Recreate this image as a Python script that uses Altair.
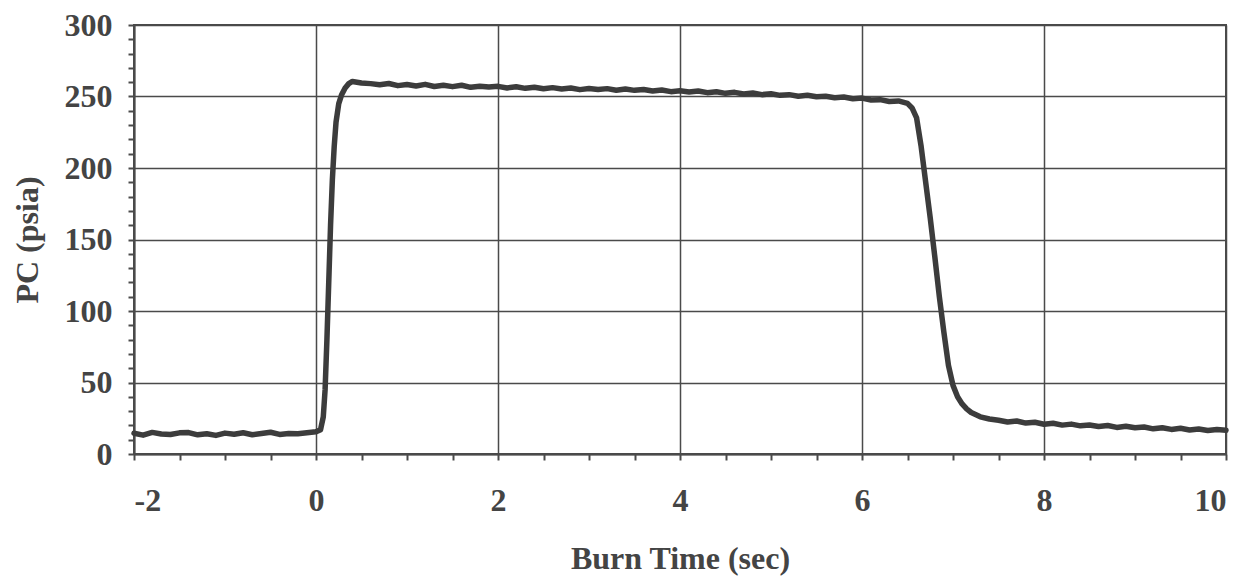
import altair as alt
import pandas as pd

time_pre = [-2.0, -1.9, -1.8, -1.7, -1.6, -1.5, -1.4, -1.3, -1.2, -1.1, -1.0,
            -0.9, -0.8, -0.7, -0.6, -0.5, -0.4, -0.3, -0.2, -0.1, 0.0]
pc_pre = [14.5, 13.2, 15.1, 14.0, 13.6, 14.8, 15.0, 13.4, 14.2, 13.0, 14.6,
          13.8, 14.9, 13.5, 14.3, 15.2, 13.7, 14.4, 14.1, 14.8, 15.5]

time_rise = [0.05, 0.08, 0.10, 0.12, 0.14, 0.16, 0.18, 0.20, 0.22, 0.25, 0.28,
             0.32, 0.36, 0.40, 0.45, 0.50]
pc_rise = [17, 26, 45, 80, 120, 160, 192, 215, 232, 245, 251,
           256, 259, 260.5, 260, 259.5]

time_plateau = [0.6, 0.7, 0.8, 0.9, 1.0, 1.1, 1.2, 1.3, 1.4, 1.5, 1.6, 1.7, 1.8, 1.9,
                2.0, 2.1, 2.2, 2.3, 2.4, 2.5, 2.6, 2.7, 2.8, 2.9, 3.0, 3.1, 3.2, 3.3,
                3.4, 3.5, 3.6, 3.7, 3.8, 3.9, 4.0, 4.1, 4.2, 4.3, 4.4, 4.5, 4.6, 4.7,
                4.8, 4.9, 5.0, 5.1, 5.2, 5.3, 5.4, 5.5, 5.6, 5.7, 5.8, 5.9, 6.0, 6.1,
                6.2, 6.3, 6.4, 6.5]
pc_plateau = [259.0, 258.2, 259.1, 257.6, 258.4, 257.3, 258.5, 257.0, 257.8, 256.9,
              257.9, 256.4, 257.2, 256.6, 257.1, 256.0, 256.8, 255.7, 256.5, 255.4,
              256.2, 255.3, 255.9, 254.8, 255.6, 254.9, 255.5, 254.4, 255.2, 254.3,
              254.9, 253.8, 254.5, 253.4, 254.0, 253.2, 253.9, 252.7, 253.3, 252.2,
              252.9, 251.8, 252.4, 251.3, 251.9, 250.8, 251.3, 250.2, 250.9, 249.8,
              250.2, 249.1, 249.6, 248.4, 248.9, 247.6, 247.8, 246.5, 246.9, 245.2]

time_fall = [6.55, 6.6, 6.65, 6.7, 6.75, 6.8, 6.85, 6.9, 6.95, 7.0, 7.05, 7.1,
             7.15, 7.2, 7.3, 7.4]
pc_fall = [242, 235, 215, 190, 165, 138, 110, 85, 62, 48, 40, 35,
           31.5, 29, 26, 24.5]

time_tail = [7.5, 7.6, 7.7, 7.8, 7.9, 8.0, 8.1, 8.2, 8.3, 8.4, 8.5, 8.6, 8.7,
             8.8, 8.9, 9.0, 9.1, 9.2, 9.3, 9.4, 9.5, 9.6, 9.7, 9.8, 9.9, 10.0]
pc_tail = [23.6, 22.4, 23.1, 21.6, 22.2, 20.8, 21.5, 20.2, 20.9, 19.7, 20.3,
           19.2, 19.9, 18.6, 19.4, 18.3, 18.9, 17.6, 18.4, 17.2, 18.0, 16.8,
           17.5, 16.4, 17.2, 16.6]

x_ticks = [-2, -1.5, -1, -0.5, 0, 0.5, 1, 1.5, 2, 2.5, 3, 3.5, 4, 4.5, 5, 5.5,
           6, 6.5, 7, 7.5, 8, 8.5, 9, 9.5, 10]
y_ticks = list(range(0, 301, 10))

df = pd.DataFrame({
    "t": time_pre + time_rise + time_plateau + time_fall + time_tail,
    "pc": pc_pre + pc_rise + pc_plateau + pc_fall + pc_tail,
})

FONT = "Liberation Serif"
GRID = "#4a4a4a"
TEXT = "#444444"

chart = alt.Chart(df).mark_line(
    color="#3c3c3c", strokeWidth=5.5, strokeJoin="round", strokeCap="round"
).encode(
    x=alt.X("t:Q", title="Burn Time (sec)",
            scale=alt.Scale(domain=[-2, 10], nice=False, zero=False),
            axis=alt.Axis(
                values=x_ticks,
                labelExpr="datum.value % 2 == 0 ? '' + datum.value : ''",
                gridOpacity={"condition": {"test": "datum.value % 2 == 0", "value": 1}, "value": 0},
                tickSize=6,
                labelPadding=25,
                titlePadding=27,
            )),
    y=alt.Y("pc:Q", title="PC (psia)",
            scale=alt.Scale(domain=[0, 300], nice=False),
            axis=alt.Axis(
                values=y_ticks,
                labelExpr="datum.value % 50 == 0 ? '' + datum.value : ''",
                gridOpacity={"condition": {"test": "datum.value % 50 == 0", "value": 1}, "value": 0},
                tickSize=6,
                labelPadding=16,
                titlePadding=20,
            )),
).properties(
    width=1092, height=429,
    background="white",
    autosize=alt.AutoSizeParams(type="none"),
    padding={"left": 126, "top": 17, "right": 17, "bottom": 123},
).configure_view(
    stroke=GRID, strokeWidth=2
).configure_axis(
    labelFont=FONT, titleFont=FONT, labelFontSize=32, titleFontSize=32,
    labelFontWeight="bold", titleFontWeight="bold",
    labelColor=TEXT, titleColor=TEXT,
    domainColor=GRID, domainWidth=2, tickColor=GRID, tickWidth=2,
    gridColor=GRID, gridWidth=1.5,
)

chart.save("out.html", embed_options={"renderer": "svg", "actions": False})
